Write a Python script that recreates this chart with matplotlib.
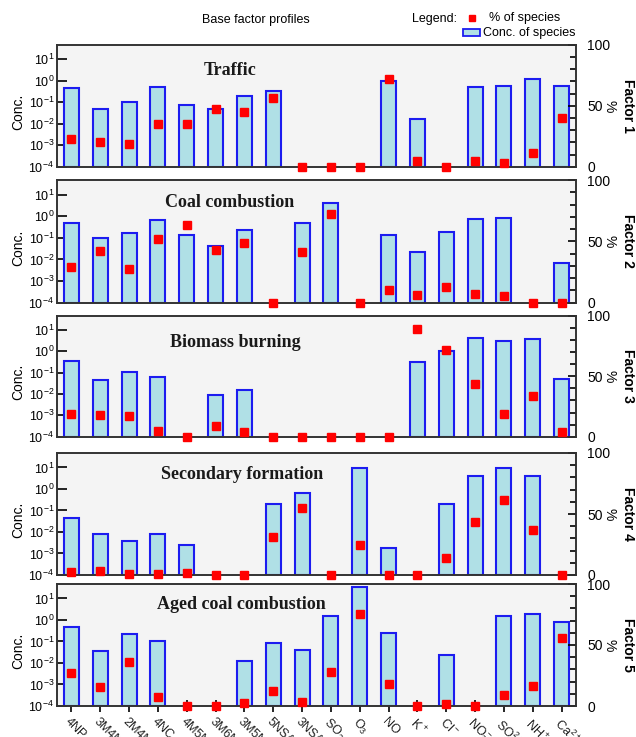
import numpy as np
import matplotlib
matplotlib.use("Agg")
import matplotlib.pyplot as plt
from matplotlib.lines import Line2D
from matplotlib.patches import Rectangle
from matplotlib.ticker import NullLocator

plt.rcParams['font.family'] = ['Liberation Sans', 'DejaVu Sans']
plt.rcParams['mathtext.default'] = 'regular'

# Species (x axis)
species = ['4NP', '3M4NC', '2M4NP', '4NC', '4M5NC', '3M6NC', '3M5NC', '5NSA', '3NSA',
           r'SO$_2$', r'O$_3$', 'NO', r'K$^+$', r'Cl$^-$', r'NO$_3^-$', r'SO$_4^{2-}$',
           r'NH$_4^+$', r'Ca$^{2+}$']

factor_names = ['Factor 1', 'Factor 2', 'Factor 3', 'Factor 4', 'Factor 5']
factor_titles = ['Traffic', 'Coal combustion', 'Biomass burning',
                 'Secondary formation', 'Aged coal combustion']

# Conc. of species (log, left axis); 0 = no bar
conc_f1 = [0.45, 0.047, 0.105, 0.49, 0.074, 0.047, 0.19, 0.33, 0, 0, 0, 1.0, 0.0166, 0, 0.49, 0.56, 1.24, 0.55]
conc_f2 = [0.5, 0.1, 0.16, 0.69, 0.14, 0.04, 0.22, 0, 0.46, 3.9, 0, 0.14, 0.022, 0.18, 0.72, 0.85, 0, 0.0069]
conc_f3 = [0.37, 0.046, 0.104, 0.066, 0, 0.0089, 0.016, 0, 0, 0, 0, 0, 0.31, 1.05, 4.4, 3.2, 3.8, 0.051]
conc_f4 = [0.047, 0.0081, 0.0037, 0.0081, 0.0026, 0, 0, 0.19, 0.63, 0, 9.8, 0.0018, 0, 0.19, 4.0, 9.8, 4.0, 0]
conc_f5 = [0.49, 0.037, 0.22, 0.11, 0, 0, 0.012, 0.085, 0.042, 1.6, 34, 0.26, 0, 0.023, 0, 1.6, 1.85, 0.78]

# % of species (right axis)
pct_f1 = [22.7, 20.2, 18.3, 35.2, 35.2, 47.5, 44.8, 56.6, 0, 0, 0, 71.6, 4.9, 0, 5.0, 3.3, 11.0, 39.7]
pct_f2 = [28.9, 41.9, 27.7, 51.7, 63.3, 42.7, 48.9, 0, 41.1, 72.0, 0, 10.1, 6.3, 12.5, 7.3, 5.7, 0, 0]
pct_f3 = [18.7, 17.9, 16.7, 4.4, 0, 8.8, 3.9, 0, 0, 0, 0, 0, 88.8, 71.7, 43.7, 19.0, 34.0, 3.6]
pct_f4 = [2.7, 3.3, 0.8, 0.8, 1.4, 0, 0, 30.9, 54.9, 0, 24.6, 0, 0, 13.7, 43.2, 61.7, 36.9, 0]
pct_f5 = [27.0, 15.6, 36.0, 7.7, 0, 0, 2.2, 12.0, 3.0, 27.9, 75.1, 18.3, 0.3, 1.6, 0.3, 9.3, 16.4, 55.7]

conc_all = [conc_f1, conc_f2, conc_f3, conc_f4, conc_f5]
pct_all = [pct_f1, pct_f2, pct_f3, pct_f4, pct_f5]

# layout (pixels of a 636x737 figure)
W, H = 636, 737
panel_px = [(44.7, 166.7), (180, 302.7), (315.7, 436.7), (453, 575), (584, 706)]
title_pos = [(0.333, 0.79), (0.333, 0.82), (0.343, 0.775), (0.356, 0.82), (0.356, 0.83)]

bar_face = '#b0e0e6'
bar_edge = '#1c1cf0'
ymin, ymax = 1e-4, 47

fig = plt.figure(figsize=(W / 100, H / 100), dpi=100)
x = np.arange(len(species))

for i in range(5):
    top, bot = panel_px[i]
    ax = fig.add_axes([57 / W, (H - bot) / H, 519 / W, (bot - top) / H])
    ax.set_facecolor('#f4f4f4')
    ax.set_yscale('log')
    ax.set_ylim(ymin, ymax)
    ax.set_xlim(-0.5, len(species) - 0.5)

    conc = np.array(conc_all[i], dtype=float)
    m = conc > 0
    ax.bar(x[m], conc[m] - ymin, bottom=ymin, width=0.52, color=bar_face,
           edgecolor=bar_edge, linewidth=1.5, zorder=2)

    ax.set_yticks([1e-4, 1e-3, 1e-2, 1e-1, 1, 10])
    ax.yaxis.set_minor_locator(NullLocator())
    ax.tick_params(axis='y', direction='in', length=7, width=1.2, labelsize=9, pad=2)
    for s in ax.spines.values():
        s.set_linewidth(1.2)
        s.set_color('#333333')

    if i < 4:
        ax.set_xticks([])
    else:
        ax.set_xticks(x)
        ax.set_xticklabels(species, rotation=-45, ha='left', va='top',
                           rotation_mode='anchor', fontsize=9, color='#222222')
        ax.tick_params(axis='x', direction='inout', length=8, width=1.2, pad=3)

    ax.text(-0.075, 0.45, 'Conc.', transform=ax.transAxes, rotation=90,
            ha='center', va='center', fontsize=10)

    ax2 = ax.twinx()
    ax2.set_ylim(0, 100)
    ax2.set_yticks([0, 50, 100])
    ax2.set_yticks(np.arange(0, 101, 10), minor=True)
    ax2.tick_params(axis='y', which='major', direction='in', length=6, width=1.2,
                    labelsize=10, pad=8)
    ax2.tick_params(axis='y', which='minor', direction='in', length=4, width=1.2)
    for s in ax2.spines.values():
        s.set_linewidth(1.2)
        s.set_color('#333333')
    ax2.plot(x, pct_all[i], 's', color='red', ms=6, mec='red', clip_on=False, zorder=5)

    ax2.text(title_pos[i][0], title_pos[i][1], factor_titles[i], transform=ax2.transAxes,
             ha='center', va='center', family='Liberation Serif', weight='bold',
             fontsize=13, color='#1a1a1a')
    ax2.text(1.065, 0.5, '%', transform=ax2.transAxes, rotation=-90,
             ha='center', va='center', fontsize=10)
    ax2.text(1.10, 0.5, factor_names[i], transform=ax2.transAxes, rotation=-90,
             ha='center', va='center', fontsize=10, weight='bold')

# header and legend
fig.text(256 / W, 1 - 20 / H, 'Base factor profiles', ha='center', va='center', fontsize=9)
fig.text(412 / W, 1 - 19 / H, 'Legend:', ha='left', va='center', fontsize=9)
fig.add_artist(Line2D([472 / W], [1 - 18 / H], marker='s', color='red', ms=5,
                      transform=fig.transFigure))
fig.text(489 / W, 1 - 18 / H, '% of species', ha='left', va='center', fontsize=9)
fig.add_artist(Rectangle((463 / W, 1 - 36 / H), 17 / W, 7 / H, transform=fig.transFigure,
                         facecolor=bar_face, edgecolor=bar_edge, linewidth=1.3))
fig.text(483 / W, 1 - 33 / H, 'Conc. of species', ha='left', va='center', fontsize=9)

fig.savefig('out.png', dpi=100)
